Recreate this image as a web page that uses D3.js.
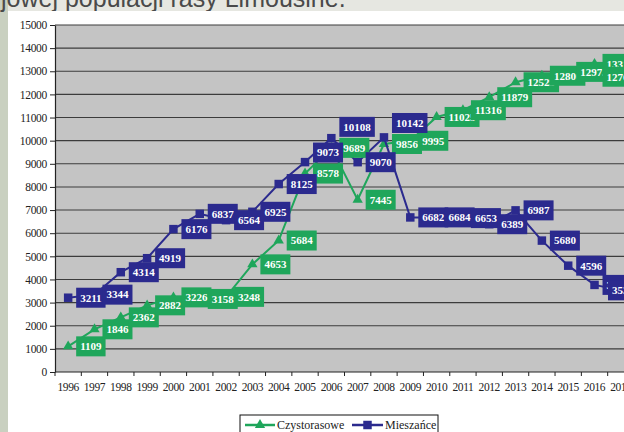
<!DOCTYPE html>
<html>
<head>
<meta charset="utf-8">
<script src="https://cdn.jsdelivr.net/npm/d3@7"></script>
<style>
  html, body { margin: 0; padding: 0; background: #e3e5dd; }
  svg { display: block; }
</style>
</head>
<body>
<svg id="chart" width="624" height="432"></svg>
<script>
// Categories and series
const years = ["1996","1997","1998","1999","2000","2001","2002","2003","2004","2005","2006",
               "2007","2008","2009","2010","2011","2012","2013","2014","2015","2016","2017"];
const czystorasowe = [1109,1846,2362,2882,3226,3158,3248,4653,5684,8578,9689,
                      7445,9856,9995,11025,11316,11879,12525,12806,12973,13319,12764];
const mieszance    = [3211,3344,4314,4919,6176,6837,6564,6925,8125,9073,10108,
                      9070,10142,6682,6684,6653,6389,6987,5680,4596,3765,3530];
const yTicks = [0,1000,2000,3000,4000,5000,6000,7000,8000,9000,10000,11000,12000,13000,14000,15000];
const seriesNames = ["Czystorasowe", "Mieszańce"];
const heading = "jowej populacji rasy Limousine.";

const GREEN = "#1fa65b";
const BLUE = "#2b2a8e";
const SERIF = "'Liberation Serif', 'Times New Roman', serif";

const svg = d3.select("#chart");

// page background, left texture strip and chart area
svg.append("rect").attr("x", 0).attr("y", 0).attr("width", 624).attr("height", 432).attr("fill", "#e6e7e1");
svg.append("rect").attr("x", 0).attr("y", 0).attr("width", 8).attr("height", 432).attr("fill", "#c9d0c0");
svg.append("text")
  .attr("x", 1).attr("y", 7)
  .attr("font-family", "'Liberation Sans', Arial, sans-serif")
  .attr("font-size", 25)
  .attr("fill", "#4a4a4a")
  .text(heading);
svg.append("rect").attr("x", 8).attr("y", 11).attr("width", 616).attr("height", 421).attr("fill", "#ffffff");

// plot geometry
const plot = { left: 55, top: 25, bottom: 372, right: 634 };
const chartRight = 638;

const x = d3.scaleBand().domain(years).range([plot.left, plot.right]).paddingInner(0).paddingOuter(0);
const y = d3.scaleLinear().domain([0, 15000]).range([plot.bottom, plot.top]);
const cx = d => x(d) + x.bandwidth() / 2;

svg.append("rect")
  .attr("x", plot.left).attr("y", plot.top)
  .attr("width", plot.right - plot.left).attr("height", plot.bottom - plot.top)
  .attr("fill", "#c4c4c4");

// horizontal gridlines
svg.append("g").selectAll("line")
  .data(yTicks.filter(t => t > 0))
  .join("line")
  .attr("x1", plot.left).attr("x2", plot.right)
  .attr("y1", d => y(d)).attr("y2", d => y(d))
  .attr("stroke", "#3c3c3c").attr("stroke-width", 1.1);

// y axis
const yAxis = svg.append("g")
  .attr("transform", `translate(${plot.left},0)`)
  .call(d3.axisLeft(y).tickValues(yTicks).tickSize(5).tickSizeOuter(0).tickPadding(3).tickFormat(d3.format("d")));
yAxis.select(".domain").attr("stroke", "#222").attr("stroke-width", 1.2);
yAxis.selectAll(".tick line").attr("stroke", "#222");
yAxis.selectAll(".tick text")
  .attr("font-family", SERIF).attr("font-size", 11.5).attr("fill", "#222")
  .attr("letter-spacing", -0.3);

// x axis: labels centred in each category, ticks on the category boundaries
const xAxis = svg.append("g")
  .attr("transform", `translate(0,${plot.bottom})`)
  .call(d3.axisBottom(x).tickSize(0).tickPadding(11));
xAxis.select(".domain").remove();
xAxis.selectAll(".tick text")
  .attr("font-family", SERIF).attr("font-size", 11.5).attr("fill", "#222")
  .attr("letter-spacing", -0.4);
svg.append("line")
  .attr("x1", plot.left).attr("x2", plot.right)
  .attr("y1", plot.bottom).attr("y2", plot.bottom)
  .attr("stroke", "#222").attr("stroke-width", 1.2);
svg.append("g").selectAll("line")
  .data(years.map(d => x(d)).concat([plot.right]))
  .join("line")
  .attr("x1", d => d).attr("x2", d => d)
  .attr("y1", plot.bottom).attr("y2", plot.bottom + 4)
  .attr("stroke", "#222");

// series lines and markers
const line = d3.line().x((d, i) => cx(years[i])).y(d => y(d));
const series = [
  { name: seriesNames[0], values: czystorasowe, color: GREEN, symbol: d3.symbolTriangle, size: 46 },
  { name: seriesNames[1], values: mieszance, color: BLUE, symbol: d3.symbolSquare, size: 72 }
];

series.forEach(s => {
  svg.append("path")
    .attr("d", line(s.values))
    .attr("fill", "none")
    .attr("stroke", s.color)
    .attr("stroke-width", 2);
  svg.append("g").selectAll("path")
    .data(s.values)
    .join("path")
    .attr("transform", (d, i) => `translate(${cx(years[i])},${y(d)})`)
    .attr("d", d3.symbol(s.symbol, s.size))
    .attr("fill", s.color);
});

// data labels: boxed, placed to the right of each point
const boxH = 20, padX = 4;
function drawLabels(s, avoid) {
  const g = svg.append("g");
  const boxes = [];
  s.values.forEach((v, i) => {
    const lg = g.append("g");
    const rect = lg.append("rect").attr("fill", s.color);
    const t = lg.append("text")
      .attr("font-family", SERIF).attr("font-size", 11).attr("font-weight", "bold")
      .attr("fill", "#ffffff")
      .text(v);
    const w = t.node().getComputedTextLength() + padX * 2;
    let bx = Math.min(cx(years[i]) + 8, chartRight - w);
    let by = y(v) - boxH / 2;
    if (avoid) {
      const o = avoid[i];
      const overlapX = bx < o.x + o.w && bx + w > o.x;
      const overlapY = by < o.y + o.h && by + boxH > o.y;
      if (overlapX && overlapY) by = o.y - boxH - 1;
    }
    rect.attr("x", bx).attr("y", by).attr("width", w).attr("height", boxH);
    t.attr("x", bx + padX).attr("y", by + boxH / 2).attr("dy", "0.35em");
    boxes.push({ x: bx, y: by, w: w, h: boxH });
  });
  return boxes;
}
const greenBoxes = drawLabels(series[0], null);
drawLabels(series[1], greenBoxes);

// legend
const legend = svg.append("g");
legend.append("rect")
  .attr("x", 240).attr("y", 415).attr("width", 198).attr("height", 30)
  .attr("fill", "#ffffff").attr("stroke", "#111").attr("stroke-width", 1);
const legendItems = [
  { s: series[0], x0: 245, x1: 275, tx: 277 },
  { s: series[1], x0: 352, x1: 383, tx: 385 }
];
legendItems.forEach(it => {
  legend.append("line")
    .attr("x1", it.x0).attr("x2", it.x1).attr("y1", 425).attr("y2", 425)
    .attr("stroke", it.s.color).attr("stroke-width", 2.5);
  legend.append("path")
    .attr("transform", `translate(${(it.x0 + it.x1) / 2},425)`)
    .attr("d", d3.symbol(it.s.symbol, it.s.size)())
    .attr("fill", it.s.color);
  legend.append("text")
    .attr("x", it.tx).attr("y", 425).attr("dy", "0.35em")
    .attr("font-family", SERIF).attr("font-size", 12).attr("fill", "#222")
    .text(it.s.name);
});
</script>
</body>
</html>
